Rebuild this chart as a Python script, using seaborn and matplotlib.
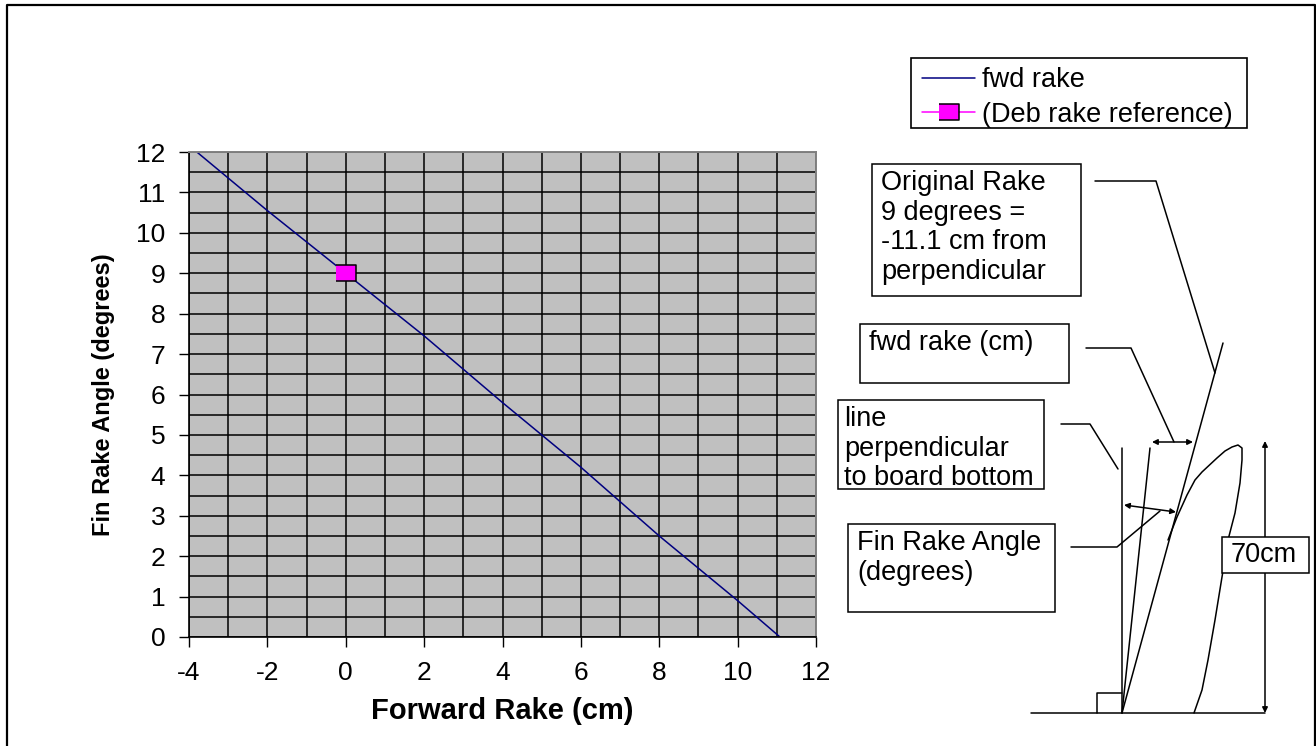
"""Fin rake chart with the hand drawn fin diagram next to it."""

import matplotlib
matplotlib.use("Agg")
import matplotlib.pyplot as plt
import seaborn as sns
from matplotlib.patches import Rectangle
from matplotlib.ticker import MultipleLocator

# chart data
rake_cm = [-3.8, -2, 0, 2, 4, 6, 8, 10, 11.08]
rake_deg = [12, 10.55, 9, 7.45, 5.8, 4.2, 2.5, 0.9, 0]
ref_cm = [0]
ref_deg = [9]
x_ticks = [-4, -2, 0, 2, 4, 6, 8, 10, 12]
y_ticks = [0, 1, 2, 3, 4, 5, 6, 7, 8, 9, 10, 11, 12]

WIDTH, HEIGHT = 1316, 746
TEXT_SIZE = 19.5

# diagram, in picture pixels
text_boxes = [
    ((872, 164, 1081, 296), 881, "Original Rake\n9 degrees =\n-11.1 cm from\nperpendicular"),
    ((860, 324, 1069, 383), 869, "fwd rake (cm)"),
    ((838, 400, 1044, 489), 844, "line\nperpendicular\nto board bottom"),
    ((848, 524, 1055, 612), 857, "Fin Rake Angle\n(degrees)"),
]
diagram_lines = [
    [(1031, 713), (1265, 713)],
    [(1122, 448), (1122, 713)],
    [(1122, 713), (1150, 448)],
    [(1122, 713), (1223, 343)],
    [(1097, 713), (1097, 693), (1122, 693)],
    [(1095, 181), (1156, 181), (1215, 373)],
    [(1086, 348), (1131, 348), (1174, 442)],
    [(1061, 424), (1090, 424), (1118, 469)],
    [(1071, 547), (1117, 547), (1160, 511)],
]
double_arrows = [
    ((1152, 442), (1193, 442)),
    ((1124, 505), (1176, 512)),
    ((1265, 441), (1265, 713)),
]
fin_outline = [
    (1194, 713), (1202, 690), (1208, 660), (1215, 620), (1222, 577), (1228, 540),
    (1235, 513), (1240, 483), (1242, 460), (1242, 448), (1238, 445), (1232, 447),
    (1225, 451), (1217, 458), (1202, 472), (1195, 480), (1187, 495), (1177, 517),
    (1168, 540),
]

sns.set_theme(style="ticks", rc={
    "text.color": "black",
    "axes.labelcolor": "black",
    "xtick.color": "black",
    "ytick.color": "black",
    "axes.unicode_minus": False,
})
plt.rcParams["font.family"] = ["Liberation Sans", "DejaVu Sans"]

fig = plt.figure(figsize=(WIDTH / 100, HEIGHT / 100), dpi=100, facecolor="white")
ax = fig.add_axes([189 / WIDTH, 1 - 637 / HEIGHT, (816 - 189) / WIDTH, (637 - 152) / HEIGHT])

sns.lineplot(x=rake_cm, y=rake_deg, color="#000080", linewidth=1.1, label="fwd rake",
             errorbar=None, ax=ax)
sns.lineplot(x=ref_cm, y=ref_deg, color="#FF00FF", linewidth=1.1,
             marker=[(-1.1, -0.9), (1.1, -0.9), (1.1, 0.9), (-1.1, 0.9)], markersize=14,
             markeredgecolor="black", markeredgewidth=1.1, label="(Deb rake reference)",
             errorbar=None, ax=ax)

ax.set_xlim(-4, 12)
ax.set_ylim(0, 12)
ax.set_xticks(x_ticks)
ax.set_yticks(y_ticks)
ax.xaxis.set_minor_locator(MultipleLocator(1))
ax.yaxis.set_minor_locator(MultipleLocator(0.5))
ax.set_facecolor("#C0C0C0")
ax.set_axisbelow(True)
ax.grid(which="both", color="black", linewidth=1.1)
ax.tick_params(which="major", length=7, width=1.0, labelsize=19)
ax.tick_params(axis="x", which="major", pad=10)
ax.tick_params(axis="y", which="major", pad=10)
ax.tick_params(which="minor", length=0)
for side in ["top", "right"]:
    ax.spines[side].set_visible(True)
    ax.spines[side].set_color("#808080")
    ax.spines[side].set_linewidth(1.4)
for side in ["left", "bottom"]:
    ax.spines[side].set_color("black")
    ax.spines[side].set_linewidth(1.2)
ax.set_xlabel("Forward Rake (cm)", fontsize=21, fontweight="bold", labelpad=9)
ax.set_ylabel("Fin Rake Angle (degrees)", fontsize=17, fontweight="bold", labelpad=15)

# legend frame is drawn on the overlay, its padding is not even in the original
ax.legend(
    loc="upper left",
    bbox_to_anchor=(922 / WIDTH, 1 - 67 / HEIGHT),
    bbox_transform=fig.transFigure,
    borderaxespad=0,
    frameon=False,
    fontsize=TEXT_SIZE,
    handlelength=1.96,
    handletextpad=0.26,
    labelspacing=0.33,
    borderpad=0,
)

# overlay in pixel coordinates for the diagram
over = fig.add_axes([0, 0, 1, 1], facecolor="none")
over.set_xlim(0, WIDTH)
over.set_ylim(HEIGHT, 0)
over.axis("off")

over.plot([7, 7, 1315, 1315], [746, 4.5, 4.5, 746], color="black", linewidth=1.6)
over.add_patch(Rectangle((911, 58), 336, 70, facecolor="none", edgecolor="black", linewidth=1.2))

for (x0, y0, x1, y1), text_x, label in text_boxes:
    over.add_patch(Rectangle((x0, y0), x1 - x0, y1 - y0, facecolor="white", edgecolor="black",
                             linewidth=1.1, clip_on=False))
    over.text(text_x, y0 + 6, label, fontsize=TEXT_SIZE, va="top", ha="left", linespacing=1.18)

for points in diagram_lines:
    over.plot(*zip(*points), color="black", linewidth=1.1)
over.plot(*zip(*fin_outline), color="black", linewidth=1.1)

for start, end in double_arrows:
    over.annotate("", xy=end, xytext=start,
                  arrowprops=dict(arrowstyle="<|-|>", color="black", linewidth=1.1,
                                  mutation_scale=8, shrinkA=0, shrinkB=0))

over.add_patch(Rectangle((1222, 537), 87, 36, facecolor="white", edgecolor="black",
                         linewidth=1.1, zorder=5))
over.text(1231, 555, "70cm", fontsize=TEXT_SIZE, va="center", ha="left", zorder=6)

fig.savefig("out.png", dpi=100)
plt.close(fig)
